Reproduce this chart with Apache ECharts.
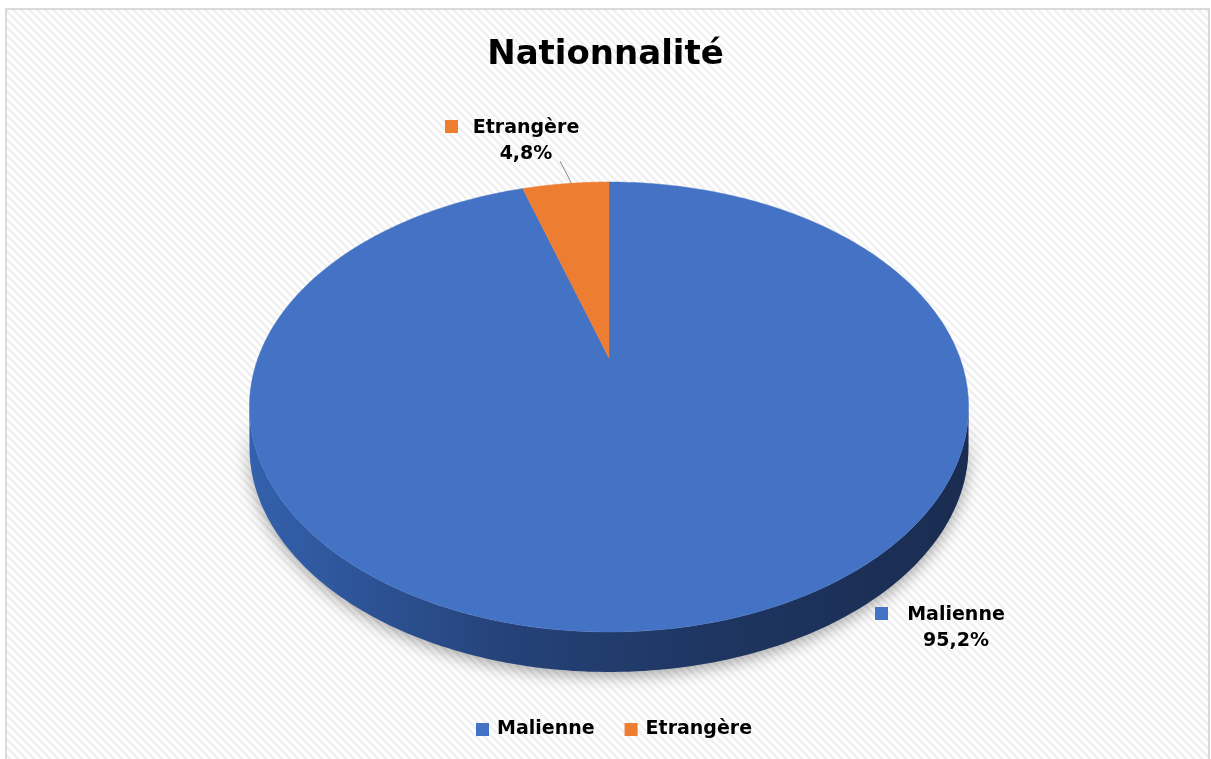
<!DOCTYPE html>
<html><head><meta charset="utf-8">
<script src="https://cdn.jsdelivr.net/npm/echarts@6/dist/echarts.min.js"></script>
<style>
html,body{margin:0;padding:0;width:1211px;height:759px;overflow:hidden;background:#fff}
#bg{position:absolute;left:5px;top:8px;width:1201px;height:760px;border:2px solid #dadada;background:repeating-linear-gradient(45deg,#ffffff 0px,#ffffff 3px,#f1f1f1 3px,#f1f1f1 5.66px);}
#chart{position:absolute;left:0;top:0;width:1211px;height:759px}
</style></head><body><div id="bg"></div><div id="chart"></div>
<script>
const categories = ['Malienne', 'Etrangère'];
const values = [95.2, 4.8];
const valueLabels = ['95,2%', '4,8%'];
const colors = ['#4472c4', '#ed7d31'];

const FONT = '"DejaVu Sans", "Open Sans", sans-serif';
// label anchors (fractions of chart size) for each category
const labelAnchors = [[956/1211, 615/759], [526/1211, 128/759]];

const chart = echarts.init(document.getElementById('chart'), null, {renderer: 'canvas'});

function makeRender(i) {
  return function (params, api) {
    const W = api.getWidth(), H = api.getHeight();
    const cx = W * 609 / 1211, cy = H * 358 / 759;
    const A = H * 214.3 / 759, B = W * 350.9 / 1211, k = -0.2178;
    const depth = H * 40 / 759;
    const total = values.reduce((a, b) => a + b, 0);
    let before = 0;
    for (let j = 0; j < i; j++) before += values[j];
    const v = api.value(0);
    const a0 = before / total * Math.PI * 2;
    const a1 = (before + v) / total * Math.PI * 2;
    function P(t, dy) {
      const u = Math.sin(t), vv = -Math.cos(t);
      const w = 1 + k * vv;
      return [cx + B * u / w, cy + A * vv / w + (dy || 0)];
    }
    function arc(s, e, dy) {
      const n = Math.max(4, Math.ceil((e - s) / (Math.PI * 2) * 360));
      const pts = [];
      for (let m = 0; m <= n; m++) pts.push(P(s + (e - s) * m / n, dy));
      return pts;
    }
    const children = [];
    const tR = Math.acos(k), tL = Math.PI * 2 - Math.acos(k);
    const lo = Math.max(a0, tR), hi = Math.min(a1, tL);
    if (lo < hi) {
      const side = arc(lo, hi, 0).concat(arc(lo, hi, depth).reverse());
      children.push({
        type: 'polygon',
        shape: {points: side},
        style: {
          fill: new echarts.graphic.LinearGradient(0, 0, 1, 0, [
            {offset: 0, color: '#3461ad'},
            {offset: 0.35, color: '#25437a'},
            {offset: 0.6, color: '#1f3764'},
            {offset: 1, color: '#1a2c50'}
          ]),
          shadowBlur: 16, shadowColor: 'rgba(0,0,0,0.35)', shadowOffsetY: 4
        }
      });
    }
    const top = [[cx, cy]].concat(arc(a0, a1, 0));
    children.push({
      type: 'polygon',
      shape: {points: top},
      style: {fill: colors[i], stroke: colors[i], lineWidth: 0.5}
    });
    // data label
    const lx = W * labelAnchors[i][0], ly = H * labelAnchors[i][1];
    const lh = 26;
    children.push({
      type: 'text',
      style: {text: categories[i], x: lx, y: ly, fill: '#000', font: 'bold 19px ' + FONT, textAlign: 'center', textVerticalAlign: 'middle'}
    });
    children.push({
      type: 'text',
      style: {text: valueLabels[i], x: lx, y: ly + lh, fill: '#000', font: 'bold 19px ' + FONT, textAlign: 'center', textVerticalAlign: 'middle'}
    });
    children.push({
      type: 'rect',
      shape: {x: lx - 81, y: ly - 8, width: 13, height: 13},
      style: {fill: colors[i]}
    });
    if (i === 1) {
      const mid = P((a0 + a1) / 2, 0);
      children.push({
        type: 'line',
        shape: {x1: lx + 34, y1: ly + lh + 7, x2: mid[0] + 6, y2: mid[1]},
        style: {stroke: '#8c8c8c', lineWidth: 1}
      });
    }
    return {type: 'group', children: children};
  };
}

const series = categories.map((name, i) => ({
  type: 'custom',
  name: name,
  coordinateSystem: 'none',
  data: [[values[i]]],
  itemStyle: {color: colors[i]},
  renderItem: makeRender(i),
  silent: true,
  animation: false
}));

chart.setOption({
  animation: false,
  title: {
    text: 'Nationnalité', left: 'center', top: 33,
    textStyle: {fontSize: 34, fontWeight: 'bold', fontFamily: FONT, color: '#000'}
  },
  legend: {
    data: categories, bottom: 15, left: 471, icon: 'rect',
    itemWidth: 13, itemHeight: 13, itemGap: 30,
    selectedMode: false,
    textStyle: {fontSize: 19, fontWeight: 'bold', fontFamily: FONT, color: '#000', padding: [0, 0, 0, 3]}
  },
  series: series
});
</script></body></html>
